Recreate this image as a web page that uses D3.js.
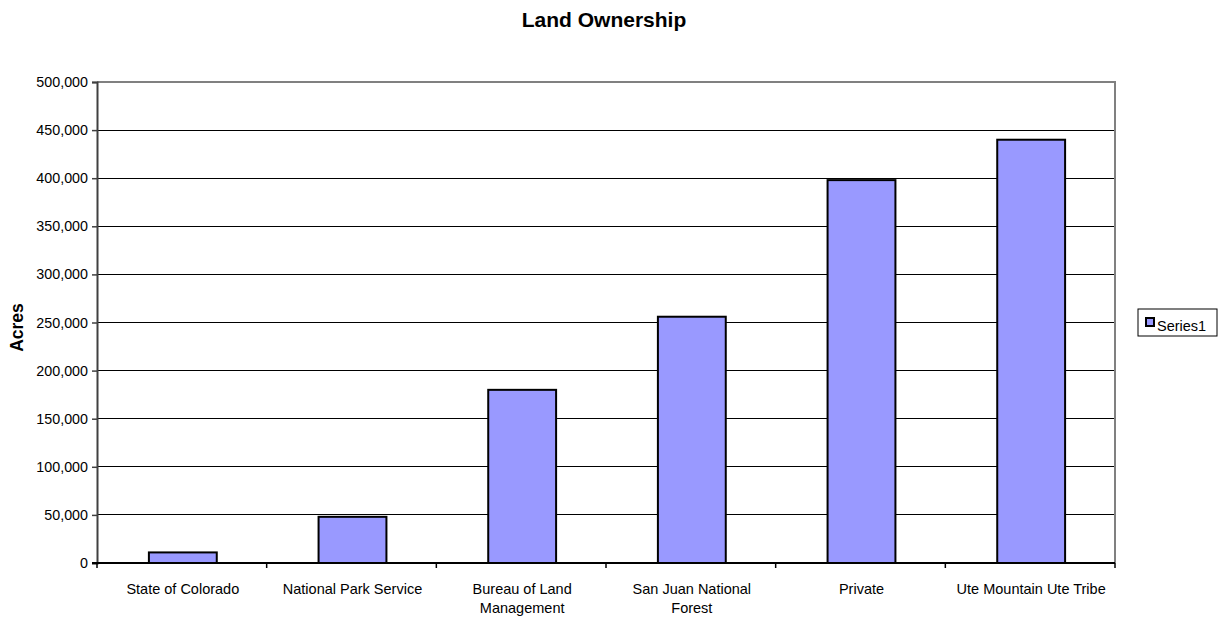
<!DOCTYPE html>
<html>
<head>
<meta charset="utf-8">
<script src="https://cdn.jsdelivr.net/npm/d3@7"></script>
<style>
  body { margin: 0; background: #fff; }
  svg text { font-family: Arial, "Liberation Sans", sans-serif; fill: #000; }
</style>
</head>
<body>
<svg id="chart"></svg>
<script>
var width = 1218,
    height = 618;

// data
const categories = ["State of Colorado", "National Park Service", "Bureau of Land Management",
                    "San Juan National Forest", "Private", "Ute Mountain Ute Tribe"];
const acres = [11000, 48000, 180000, 256000, 398000, 440000];
const yTicks = [0, 50000, 100000, 150000, 200000, 250000, 300000, 350000, 400000, 450000, 500000];
const seriesName = "Series1";

// plot area
const plotLeft = 97, plotRight = 1115, plotTop = 82, plotBottom = 563;

const svg = d3.select("#chart")
    .attr("width", width)
    .attr("height", height);

var x = d3.scaleBand()
    .domain(categories)
    .range([plotLeft, plotRight])
    .paddingInner(0.6)
    .paddingOuter(0.3);

var xBand = d3.scaleBand()   // full category slots for ticks + labels
    .domain(categories)
    .range([plotLeft, plotRight]);

var y = d3.scaleLinear()
    .domain([0, 500000])
    .range([plotBottom, plotTop]);

// gridlines
svg.append("g")
    .selectAll("line")
    .data(yTicks.slice(1, -1))
    .enter().append("line")
    .attr("x1", plotLeft).attr("x2", plotRight)
    .attr("y1", d => y(d)).attr("y2", d => y(d))
    .attr("stroke", "#000")
    .attr("stroke-width", 1)
    .attr("shape-rendering", "crispEdges");

// top + right border of the plot area (gray)
svg.append("path")
    .attr("d", `M${plotLeft},${plotTop}H${plotRight}V${plotBottom}`)
    .attr("fill", "none")
    .attr("stroke", "#808080")
    .attr("stroke-width", 2);

// bars
svg.append("g")
    .selectAll("rect")
    .data(acres)
    .enter().append("rect")
    .attr("x", (d, i) => x(categories[i]) + 1)
    .attr("width", x.bandwidth())
    .attr("y", d => y(d))
    .attr("height", d => plotBottom - y(d))
    .attr("fill", "#9999ff")
    .attr("stroke", "#000")
    .attr("stroke-width", 2);

// y axis
var yAxis = d3.axisLeft(y)
    .tickValues(yTicks)
    .tickSize(5)
    .tickPadding(4)
    .tickFormat(d3.format(","));

var gy = svg.append("g")
    .attr("transform", `translate(${plotLeft},0)`)
    .call(yAxis);
gy.select(".domain").attr("stroke", "#404040").attr("stroke-width", 2);
gy.selectAll(".tick line").attr("stroke", "#404040").attr("stroke-width", 1.5);
gy.selectAll(".tick text")
    .attr("font-size", 14.3)
    .attr("fill", "#000");

// x axis: ticks at category boundaries
var gx = svg.append("g");
gx.append("line")
    .attr("x1", plotLeft - 5).attr("x2", plotRight)
    .attr("y1", plotBottom).attr("y2", plotBottom)
    .attr("stroke", "#000")
    .attr("stroke-width", 2);
gx.selectAll("line.tk")
    .data(categories.concat(["end"]))
    .enter().append("line")
    .attr("class", "tk")
    .attr("x1", (d, i) => plotLeft + i * xBand.step())
    .attr("x2", (d, i) => plotLeft + i * xBand.step())
    .attr("y1", plotBottom).attr("y2", plotBottom + 5)
    .attr("stroke", "#000")
    .attr("stroke-width", 1.5);

// category labels, wrapped like the original
const labelLines = {
    "Bureau of Land Management": ["Bureau of Land", "Management"],
    "San Juan National Forest": ["San Juan National", "Forest"]
};
var lbl = gx.selectAll("text.cat")
    .data(categories)
    .enter().append("text")
    .attr("class", "cat")
    .attr("text-anchor", "middle")
    .attr("font-size", 14.5)
    .attr("x", d => xBand(d) + xBand.bandwidth() / 2)
    .attr("y", 594);
lbl.each(function (d) {
    var lines = labelLines[d] || [d];
    var t = d3.select(this);
    lines.forEach((ln, k) => {
        t.append("tspan")
            .attr("x", xBand(d) + xBand.bandwidth() / 2 + 1)
            .attr("dy", k === 0 ? 0 : 18.5)
            .text(ln);
    });
});

// y title
svg.append("text")
    .attr("transform", `translate(23,${(plotTop + plotBottom) / 2 + 5}) rotate(-90)`)
    .attr("text-anchor", "middle")
    .attr("font-size", 17.5)
    .attr("font-weight", "bold")
    .text("Acres");

// chart title
svg.append("text")
    .attr("x", 604)
    .attr("y", 26.5)
    .attr("text-anchor", "middle")
    .attr("font-size", 21)
    .attr("font-weight", "bold")
    .text("Land Ownership");

// legend
var legend = svg.append("g").attr("transform", "translate(1138,309)");
legend.append("rect")
    .attr("width", 79).attr("height", 27)
    .attr("fill", "#fff")
    .attr("stroke", "#000")
    .attr("stroke-width", 1);
legend.append("rect")
    .attr("x", 8).attr("y", 9)
    .attr("width", 8).attr("height", 8)
    .attr("fill", "#9999ff")
    .attr("stroke", "#000")
    .attr("stroke-width", 2);
legend.append("text")
    .attr("x", 19).attr("y", 22)
    .attr("font-size", 14.5)
    .text(seriesName);
</script>
</body>
</html>
